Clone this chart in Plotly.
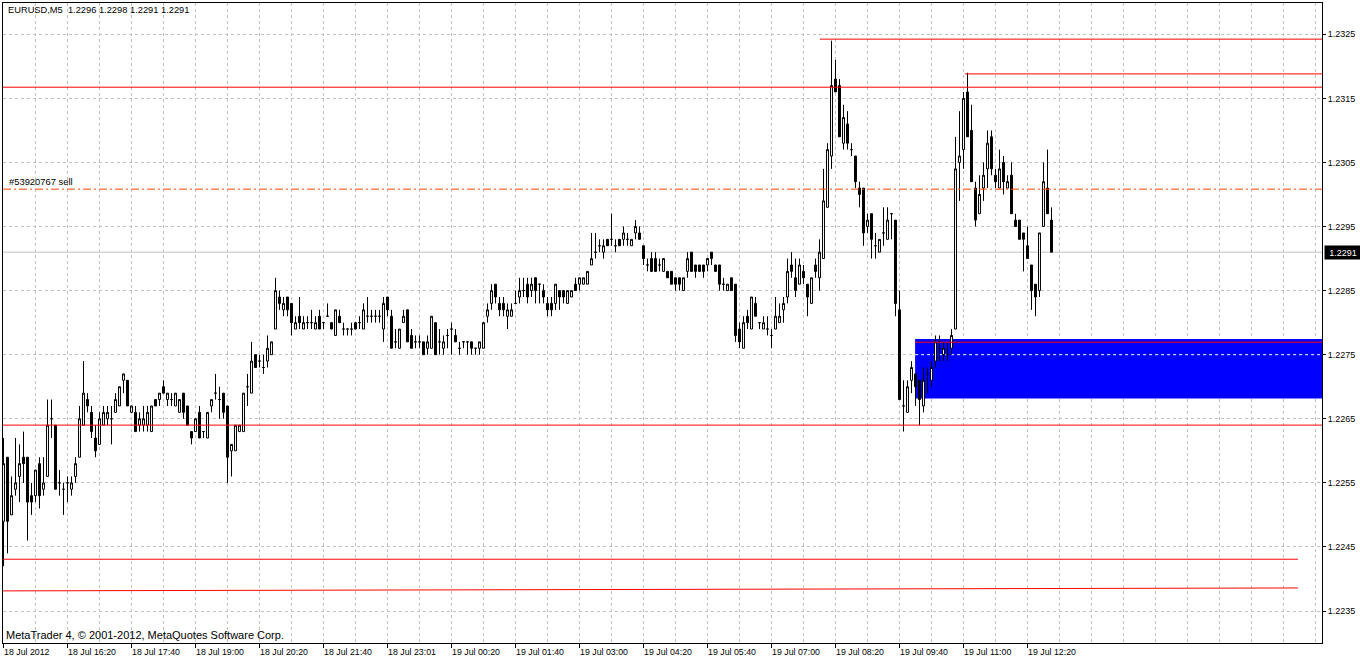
import plotly.graph_objects as go

# ---------------- data (EURUSD M5, 18-19 Jul 2012) ----------------
chart_title = "EURUSD,M5\u00a0\u00a01.2296 1.2298 1.2291 1.2291"
order_label = "#53920767 sell"
copyright_text = "MetaTrader 4, \u00a9 2001-2012, MetaQuotes Software Corp."

open_ = [
1.2249,1.2259,1.2250,1.2254,1.2256,1.2259,1.2259,1.2253,1.2253,1.2258,
1.2254,1.2256,1.2265,1.2264,1.2255,1.2254,1.2255,1.2254,1.2256,1.2259,
1.2264,1.2268,1.2266,1.2262,1.2261,1.2264,1.2265,1.2265,1.2266,1.2267,
1.2271,1.2271,1.2266,1.2266,1.2264,1.2264,1.2264,1.2263,1.2268,1.2268,
1.2270,1.2268,1.2268,1.2267,1.2266,1.2269,1.2267,1.2263,1.2263,1.2266,
1.2263,1.2262,1.2267,1.2269,1.2268,1.2269,1.2267,1.2260,1.2260,1.2263,
1.2263,1.2270,1.2269,1.2275,1.2274,1.2273,1.2274,1.2275,1.2279,1.2284,
1.2282,1.2284,1.2283,1.2279,1.2281,1.2279,1.2280,1.2280,1.2279,1.2281,
1.2280,1.2281,1.2280,1.2278,1.2281,1.2279,1.2279,1.2279,1.2280,1.2280,
1.2279,1.2281,1.2281,1.2281,1.2281,1.2279,1.2284,1.2281,1.2277,1.2276,
1.2280,1.2282,1.2278,1.2277,1.2277,1.2277,1.2276,1.2276,1.2280,1.2277,
1.2276,1.2278,1.2279,1.2278,1.2276,1.2277,1.2277,1.2277,1.2276,1.2276,
1.2276,1.2281,1.2283,1.2286,1.2283,1.2283,1.2281,1.2281,1.2283,1.2284,
1.2285,1.2286,1.2285,1.2287,1.2286,1.2285,1.2283,1.2283,1.2283,1.2285,
1.2285,1.2283,1.2284,1.2286,1.2286,1.2286,1.2286,1.2289,1.2291,1.2292,
1.2291,1.2293,1.2293,1.2292,1.2293,1.2293,1.2293,1.2292,1.2294,1.2294,
1.2292,1.2289,1.2290,1.2290,1.2289,1.2288,1.2288,1.2288,1.2287,1.2287,
1.2285,1.2288,1.2291,1.2289,1.2289,1.2289,1.2289,1.2291,1.2289,1.2289,
1.2286,1.2285,1.2287,1.2286,1.2279,1.2276,1.2281,1.2279,1.2283,1.2280,
1.2279,1.2279,1.2278,1.2279,1.2280,1.2282,1.2284,1.2289,1.2287,1.2286,
1.2288,1.2286,1.2283,1.2289,1.2287,1.2290,1.2298,1.2306,1.2318,1.2317,
1.2308,1.2311,1.2307,1.2306,1.2301,1.2301,1.2295,1.2297,1.2292,1.2291,
1.2294,1.2293,1.2297,1.2296,1.2282,1.2267,1.2266,1.2271,1.2272,1.2271,
1.2267,1.2272,1.2271,1.2274,1.2276,1.2275,1.2275,1.2276,1.2279,1.2305,
1.2307,1.2316,1.2310,1.2301,1.2297,1.2301,1.2304,1.2309,1.2303,1.2301,
1.2305,1.2301,1.2303,1.2296,1.2296,1.2294,1.2292,1.2289,1.2286,1.2285,
1.2295,1.2301,1.2296]

high = [
1.2262,1.2259,1.2256,1.2262,1.2261,1.2263,1.2259,1.2255,1.2257,1.2259,
1.2259,1.2268,1.2268,1.2264,1.2257,1.2255,1.2256,1.2256,1.2259,1.2267,
1.2274,1.2269,1.2267,1.2264,1.2266,1.2267,1.2267,1.2267,1.2269,1.2270,
1.2272,1.2271,1.2267,1.2267,1.2266,1.2267,1.2267,1.2267,1.2268,1.2269,
1.2271,1.2269,1.2269,1.2269,1.2268,1.2269,1.2267,1.2263,1.2265,1.2267,
1.2263,1.2266,1.2268,1.2272,1.2270,1.2269,1.2267,1.2261,1.2264,1.2264,
1.2269,1.2272,1.2277,1.2275,1.2275,1.2275,1.2278,1.2277,1.2287,1.2285,
1.2284,1.2284,1.2283,1.2281,1.2284,1.2281,1.2281,1.2282,1.2281,1.2282,
1.2280,1.2283,1.2280,1.2282,1.2282,1.2280,1.2279,1.2280,1.2280,1.2281,
1.2283,1.2284,1.2282,1.2282,1.2282,1.2284,1.2284,1.2282,1.2279,1.2279,
1.2282,1.2282,1.2279,1.2278,1.2278,1.2277,1.2278,1.2281,1.2280,1.2279,
1.2278,1.2279,1.2280,1.2279,1.2277,1.2277,1.2277,1.2277,1.2276,1.2277,
1.2280,1.2283,1.2286,1.2286,1.2284,1.2284,1.2283,1.2283,1.2285,1.2287,
1.2287,1.2287,1.2287,1.2287,1.2286,1.2286,1.2284,1.2284,1.2286,1.2285,
1.2285,1.2285,1.2285,1.2287,1.2287,1.2287,1.2288,1.2294,1.2294,1.2293,
1.2293,1.2293,1.2297,1.2293,1.2293,1.2295,1.2294,1.2293,1.2296,1.2295,
1.2292,1.2290,1.2291,1.2291,1.2290,1.2290,1.2288,1.2288,1.2287,1.2287,
1.2287,1.2291,1.2291,1.2289,1.2289,1.2289,1.2290,1.2291,1.2289,1.2289,
1.2287,1.2286,1.2287,1.2286,1.2280,1.2281,1.2282,1.2284,1.2284,1.2280,
1.2281,1.2281,1.2279,1.2284,1.2283,1.2284,1.2290,1.2291,1.2290,1.2290,
1.2289,1.2286,1.2287,1.2290,1.2293,1.2304,1.2308,1.2324,1.2321,1.2318,
1.2314,1.2313,1.2308,1.2306,1.2302,1.2301,1.2297,1.2297,1.2294,1.2293,
1.2298,1.2298,1.2297,1.2296,1.2285,1.2271,1.2271,1.2274,1.2272,1.2271,
1.2273,1.2273,1.2274,1.2278,1.2278,1.2277,1.2277,1.2279,1.2309,1.2313,
1.2316,1.2319,1.2314,1.2302,1.2303,1.2305,1.2310,1.2310,1.2304,1.2307,
1.2306,1.2303,1.2305,1.2297,1.2296,1.2294,1.2295,1.2289,1.2286,1.2294,
1.2305,1.2307,1.2298]

low = [
1.2242,1.2244,1.2250,1.2253,1.2252,1.2255,1.2246,1.2250,1.2252,1.2251,
1.2253,1.2256,1.2262,1.2254,1.2253,1.2250,1.2252,1.2253,1.2255,1.2259,
1.2264,1.2266,1.2262,1.2259,1.2261,1.2264,1.2264,1.2261,1.2266,1.2267,
1.2269,1.2267,1.2266,1.2263,1.2263,1.2263,1.2263,1.2263,1.2267,1.2267,
1.2269,1.2267,1.2267,1.2267,1.2266,1.2265,1.2264,1.2261,1.2263,1.2262,
1.2262,1.2262,1.2266,1.2268,1.2265,1.2265,1.2255,1.2256,1.2260,1.2263,
1.2263,1.2267,1.2269,1.2273,1.2273,1.2272,1.2273,1.2275,1.2279,1.2282,
1.2281,1.2281,1.2278,1.2279,1.2279,1.2279,1.2279,1.2279,1.2279,1.2279,
1.2279,1.2281,1.2279,1.2278,1.2280,1.2278,1.2278,1.2278,1.2279,1.2279,
1.2279,1.2280,1.2280,1.2280,1.2280,1.2277,1.2281,1.2276,1.2276,1.2276,
1.2280,1.2277,1.2276,1.2276,1.2276,1.2275,1.2275,1.2276,1.2275,1.2275,
1.2275,1.2276,1.2275,1.2277,1.2275,1.2276,1.2275,1.2275,1.2275,1.2275,
1.2276,1.2280,1.2282,1.2283,1.2281,1.2281,1.2279,1.2281,1.2283,1.2283,
1.2284,1.2283,1.2284,1.2283,1.2283,1.2283,1.2281,1.2281,1.2282,1.2282,
1.2283,1.2283,1.2284,1.2285,1.2285,1.2286,1.2286,1.2289,1.2290,1.2291,
1.2290,1.2292,1.2292,1.2291,1.2292,1.2292,1.2292,1.2292,1.2293,1.2293,
1.2289,1.2288,1.2288,1.2288,1.2288,1.2288,1.2287,1.2286,1.2285,1.2285,
1.2285,1.2287,1.2288,1.2287,1.2288,1.2287,1.2288,1.2289,1.2288,1.2285,
1.2285,1.2285,1.2285,1.2277,1.2276,1.2276,1.2279,1.2279,1.2281,1.2279,
1.2279,1.2278,1.2276,1.2279,1.2280,1.2280,1.2283,1.2287,1.2284,1.2286,
1.2286,1.2281,1.2283,1.2287,1.2285,1.2290,1.2298,1.2304,1.2316,1.2309,
1.2307,1.2307,1.2306,1.2301,1.2298,1.2292,1.2294,1.2290,1.2290,1.2291,
1.2292,1.2293,1.2293,1.2281,1.2268,1.2263,1.2266,1.2269,1.2267,1.2264,
1.2266,1.2269,1.2270,1.2273,1.2274,1.2274,1.2274,1.2275,1.2279,1.2299,
1.2304,1.2309,1.2302,1.2295,1.2297,1.2299,1.2301,1.2303,1.2301,1.2301,
1.2300,1.2301,1.2297,1.2295,1.2293,1.2288,1.2290,1.2282,1.2281,1.2284,
1.2295,1.2297,1.2291]

close = [
1.2258,1.2249,1.2253,1.2255,1.2258,1.2258,1.2252,1.2252,1.2257,1.2253,
1.2255,1.2264,1.2265,1.2254,1.2255,1.2254,1.2255,1.2255,1.2258,1.2265,
1.2269,1.2267,1.2263,1.2260,1.2265,1.2266,1.2266,1.2265,1.2268,1.2270,
1.2272,1.2267,1.2267,1.2263,1.2265,1.2265,1.2266,1.2267,1.2267,1.2269,
1.2269,1.2269,1.2268,1.2269,1.2268,1.2266,1.2264,1.2262,1.2265,1.2262,
1.2263,1.2266,1.2268,1.2269,1.2268,1.2266,1.2259,1.2261,1.2264,1.2264,
1.2269,1.2270,1.2274,1.2273,1.2274,1.2273,1.2276,1.2277,1.2285,1.2283,
1.2283,1.2282,1.2280,1.2280,1.2280,1.2280,1.2280,1.2280,1.2280,1.2279,
1.2280,1.2281,1.2279,1.2282,1.2280,1.2279,1.2279,1.2279,1.2279,1.2280,
1.2282,1.2281,1.2281,1.2281,1.2281,1.2283,1.2282,1.2276,1.2277,1.2279,
1.2281,1.2277,1.2276,1.2277,1.2277,1.2275,1.2277,1.2281,1.2275,1.2277,
1.2277,1.2278,1.2279,1.2277,1.2276,1.2277,1.2277,1.2276,1.2276,1.2277,
1.2280,1.2282,1.2285,1.2284,1.2282,1.2282,1.2282,1.2282,1.2283,1.2285,
1.2285,1.2284,1.2286,1.2285,1.2286,1.2284,1.2282,1.2282,1.2286,1.2284,
1.2284,1.2285,1.2285,1.2285,1.2287,1.2287,1.2288,1.2290,1.2291,1.2292,
1.2292,1.2292,1.2293,1.2292,1.2292,1.2294,1.2293,1.2293,1.2295,1.2293,
1.2290,1.2289,1.2288,1.2288,1.2289,1.2290,1.2287,1.2286,1.2286,1.2286,
1.2287,1.2290,1.2288,1.2288,1.2288,1.2288,1.2290,1.2290,1.2288,1.2286,
1.2286,1.2286,1.2285,1.2278,1.2277,1.2280,1.2280,1.2284,1.2281,1.2280,
1.2280,1.2279,1.2278,1.2281,1.2281,1.2283,1.2288,1.2288,1.2285,1.2289,
1.2287,1.2284,1.2287,1.2288,1.2291,1.2299,1.2307,1.2317,1.2316,1.2309,
1.2312,1.2308,1.2307,1.2302,1.2300,1.2294,1.2296,1.2293,1.2292,1.2293,
1.2294,1.2296,1.2297,1.2283,1.2268,1.2267,1.2270,1.2273,1.2270,1.2268,
1.2271,1.2272,1.2273,1.2277,1.2276,1.2276,1.2275,1.2278,1.2304,1.2306,
1.2315,1.2309,1.2302,1.2296,1.2300,1.2303,1.2308,1.2304,1.2302,1.2304,
1.2302,1.2302,1.2297,1.2295,1.2293,1.2293,1.2290,1.2285,1.2284,1.2294,
1.2302,1.2297,1.2291]

bar_index = list(range(len(open_)))

time_tick_bars = [0, 16, 32, 48, 64, 80, 96, 112, 128, 144, 160, 176, 192, 208, 224, 240, 256]
time_tick_labels = ["18 Jul 2012", "18 Jul 16:20", "18 Jul 17:40", "18 Jul 19:00", "18 Jul 20:20",
                    "18 Jul 21:40", "18 Jul 23:01", "19 Jul 00:20", "19 Jul 01:40", "19 Jul 03:00",
                    "19 Jul 04:20", "19 Jul 05:40", "19 Jul 07:00", "19 Jul 08:20", "19 Jul 09:40",
                    "19 Jul 11:00", "19 Jul 12:20"]

price_ticks = [1.2235, 1.2245, 1.2255, 1.2265, 1.2275, 1.2285, 1.2295, 1.2305, 1.2315, 1.2325]
price_tick_labels = ["1.2235", "1.2245", "1.2255", "1.2265", "1.2275",
                     "1.2285", "1.2295", "1.2305", "1.2315", "1.2325"]

bid_price = 1.2291
bid_label = "1.2291"
order_price = 1.230083
session_high_line = 1.232424
session_high_start = 204.1
second_high_line = 1.231882
second_high_start = 240.4
resistance_line = 1.231674
support_line = 1.226401
lower_line = 1.224308
lower_line_end = 323.6
trend_line_start = 1.223814
trend_line_end_price = 1.223860
zone_top = 1.227746
zone_bottom = 1.226815
zone_start = 227.9
zone_line = 1.227695
grid_level_in_zone = 1.2275

x_range = [-0.125, 329.625]
y_range = [1.223001, 1.232988]

# ---------------- figure ----------------
FONT = "Liberation Sans"
RED = "#FF0000"
GRID = "#C0C0C0"

fig = go.Figure()
fig.add_trace(go.Candlestick(
    x=bar_index, open=open_, high=high, low=low, close=close,
    increasing=dict(line=dict(color="black", width=1), fillcolor="white"),
    decreasing=dict(line=dict(color="black", width=1), fillcolor="black"),
    whiskerwidth=0, hoverinfo="skip", showlegend=False,
))

shapes = []
# blue zone (behind candles)
shapes.append(dict(type="rect", xref="x", yref="y", x0=zone_start, x1=x_range[1],
                   y0=zone_bottom, y1=zone_top, fillcolor="#0000FF",
                   line=dict(width=0), layer="between"))
shapes.append(dict(type="line", xref="x", yref="y", x0=zone_start, x1=x_range[1],
                   y0=grid_level_in_zone, y1=grid_level_in_zone,
                   line=dict(color="#FFFFFF", width=1, dash="3px,3px"), layer="between"))
# bid line
shapes.append(dict(type="line", xref="paper", yref="y", x0=0, x1=1, y0=bid_price, y1=bid_price,
                   line=dict(color=GRID, width=1), layer="between"))
# red level lines
shapes.append(dict(type="line", xref="x", yref="y", x0=zone_start, x1=x_range[1],
                   y0=zone_line, y1=zone_line, line=dict(color=RED, width=1), layer="above"))
shapes.append(dict(type="line", xref="x", yref="y", x0=session_high_start, x1=x_range[1],
                   y0=session_high_line, y1=session_high_line, line=dict(color=RED, width=1), layer="above"))
shapes.append(dict(type="line", xref="x", yref="y", x0=second_high_start, x1=x_range[1],
                   y0=second_high_line, y1=second_high_line, line=dict(color=RED, width=1), layer="above"))
shapes.append(dict(type="line", xref="paper", yref="y", x0=0, x1=1,
                   y0=resistance_line, y1=resistance_line, line=dict(color=RED, width=1), layer="above"))
shapes.append(dict(type="line", xref="paper", yref="y", x0=0, x1=1,
                   y0=support_line, y1=support_line, line=dict(color=RED, width=1), layer="above"))
shapes.append(dict(type="line", xref="x", yref="y", x0=x_range[0], x1=lower_line_end,
                   y0=lower_line, y1=lower_line, line=dict(color=RED, width=1), layer="above"))
shapes.append(dict(type="line", xref="x", yref="y", x0=x_range[0], x1=lower_line_end,
                   y0=trend_line_start, y1=trend_line_end_price, line=dict(color=RED, width=1), layer="above"))
# order line (dash-dot)
shapes.append(dict(type="line", xref="paper", yref="y", x0=0, x1=1, y0=order_price, y1=order_price,
                   line=dict(color="#FF4500", width=1, dash="8px,3px,2px,3px"), layer="above"))

annotations = []
annotations.append(dict(text=chart_title, xref="paper", yref="paper", x=0.0025, y=0.9883,
                        xanchor="left", yanchor="middle", showarrow=False,
                        font=dict(family=FONT, size=9.3, color="black")))
annotations.append(dict(text=order_label, xref="paper", yref="y", x=0.0030, y=order_price,
                        xanchor="left", yanchor="bottom", yshift=0, showarrow=False,
                        font=dict(family=FONT, size=9.4, color="black")))
annotations.append(dict(text=copyright_text, xref="paper", yref="paper", x=0.0008, y=0.0125,
                        xanchor="left", yanchor="middle", showarrow=False,
                        font=dict(family=FONT, size=11, color="black")))
for tb, tl in zip(time_tick_bars, time_tick_labels):
    annotations.append(dict(text=tl, xref="x", yref="paper", x=tb, y=-0.0145,
                            xanchor="left", yanchor="middle", xshift=-2, showarrow=False,
                            font=dict(family=FONT, size=8.8, color="black")))
annotations.append(dict(text=bid_label, xref="paper", yref="y", x=1.0018, y=bid_price,
                        xanchor="left", yanchor="middle", showarrow=False,
                        bgcolor="black", width=36, height=13, borderpad=0, align="center",
                        font=dict(family=FONT, size=9, color="white")))

fig.update_layout(
    width=1360, height=660,
    margin=dict(l=3, r=38, t=3, b=17, pad=0),
    paper_bgcolor="white", plot_bgcolor="white",
    showlegend=False,
    font=dict(family=FONT, size=9, color="black"),
    shapes=shapes, annotations=annotations,
    xaxis=dict(
        range=x_range, rangeslider=dict(visible=False),
        tickmode="array", tickvals=time_tick_bars, showticklabels=False,
        ticks="outside", ticklen=4, tickcolor="black", tickwidth=1,
        showgrid=True, gridcolor=GRID, gridwidth=1, griddash="3px,3px",
        minor=dict(tickmode="linear", tick0=0, dtick=8, showgrid=True,
                   gridcolor=GRID, gridwidth=1, griddash="3px,3px", ticks=""),
        showline=True, linecolor="black", linewidth=1, mirror=True,
        zeroline=False, fixedrange=True,
    ),
    yaxis=dict(
        range=y_range, side="right",
        tickmode="array", tickvals=price_ticks, ticktext=price_tick_labels,
        ticks="outside", ticklen=3, tickcolor="black",
        tickfont=dict(family=FONT, size=9, color="black"),
        showgrid=True, gridcolor=GRID, gridwidth=1, griddash="3px,3px",
        showline=True, linecolor="black", linewidth=1, mirror=True,
        zeroline=False, fixedrange=True,
    ),
)

fig.write_html("out.html", config={"displayModeBar": False},
               post_script="document.body.style.margin='0';")
